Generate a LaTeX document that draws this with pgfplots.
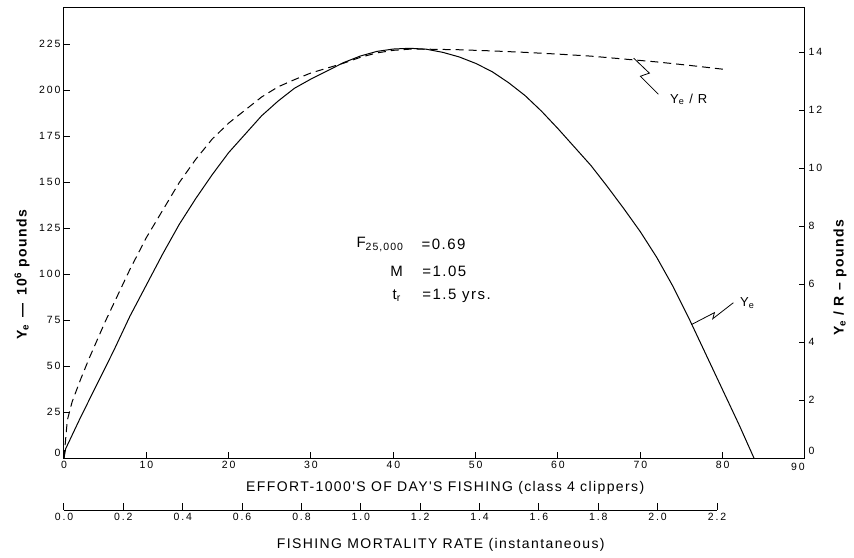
\documentclass[border=0pt]{standalone}
\usepackage{fontspec}
\setmainfont{Liberation Sans}
\newfontfamily\lab[LetterSpace=10]{Liberation Sans}
\newfontfamily\tck[LetterSpace=18]{Liberation Sans}
\usepackage{pgfplots}
\usepackage{pgfplotstable}
\pgfplotsset{compat=1.18}

% Ye in 10^6 pounds (left scale)
\pgfplotstableread{
E     Y
0     0
0.2   5
2     22
4     40
6     58
8     77
10    94
12    111
14    127
16    141
18    154
20    166
22    176
24    186
26    194
28    201
30    206
32    210.5
34    215
36    218.5
38    221
40    222.3
42    222.7
44    222.2
46    220.5
48    218
50    214.5
52    210
54    204
56    197
58    188.5
60    179
62    169
64    159
66    147.5
68    135.5
70    123
72    109
74    93
76    75
78    56
80    37
82    18
83.8  0
}\yieldtab

% Ye/R in pounds (right scale)
\pgfplotstableread{
E     R
0     0
0.4   1.3
1     1.95
2     2.7
3     3.4
4     4.05
5     4.7
6     5.3
7     5.9
8     6.5
9     7.05
10    7.6
12    8.55
14    9.5
16    10.3
18    11.0
20    11.55
22    12.0
24    12.45
26    12.8
28    13.05
30    13.28
32    13.45
34    13.62
36    13.82
38    13.97
40    14.06
42    14.1
44    14.1
48    14.08
52    14.04
56    13.99
60    13.93
64    13.86
68    13.76
72    13.66
76    13.54
80.3  13.4
}\pertab

\pgfplotsset{
  fishery/.style={
    at={(0pt,0pt)}, anchor=south west,
    scale only axis, width=741pt, height=450pt,
    xmin=0, xmax=90,
    tick align=inside, major tick length=6pt,
    axis line style={line width=1pt},
    tick style={line width=1pt, black},
    ticklabel style={font=\tck\fontsize{10.5}{12}\selectfont},
    /pgf/number format/assume math mode=true,
    label style={font=\lab\bfseries\fontsize{14}{16}\selectfont},
    clip=false,
  }
}

\begin{document}
\begin{tikzpicture}
\begin{axis}[
  fishery,
  ymin=0, ymax=244.6,
  xtick={0,10,...,80}, ytick={25,50,...,225},
  extra x ticks={90},
  extra x tick style={xticklabel style={xshift=-7pt, yshift=-2pt}},
  extra y ticks={0},
  extra y tick style={yticklabel style={yshift=5pt}},
  xtick pos=left, ytick pos=left,
  xlabel={\mdseries EFFORT-1000'S OF DAY'S FISHING (class 4 clippers)},
  xlabel style={at={(axis description cs:0.5145,-0.0667)}, anchor=center},
  ylabel={Y\textsubscript{e} \,\textemdash\, 10\textsuperscript{6} pounds},
  ylabel style={at={(axis description cs:-0.0567,0.407)}, anchor=center},
]
\addplot[black, line width=1pt] table[x=E, y=Y] {\yieldtab};

\draw[line width=0.8pt] (axis cs:69.2,217.3) -- (axis cs:71.1,209.2)
  -- (axis cs:70.0,207.5) -- (axis cs:72.2,197.7);
\node[anchor=west, font=\lab\fontsize{13}{15}\selectfont]
  at (axis cs:73.2,195) {Y\textsubscript{e} / R};
\draw[line width=0.8pt] (axis cs:76.2,72.5) -- (axis cs:79.0,79.0)
  -- (axis cs:78.8,75.7) -- (axis cs:81.3,84.4);
\node[anchor=west, font=\lab\fontsize{13}{15}\selectfont]
  at (axis cs:81.7,84.4) {Y\textsubscript{e}};

\node[anchor=west, font=\lab\fontsize{15}{17}\selectfont]
  at (axis cs:35.1,116) {F\textsubscript{25,000}};
\node[anchor=west, font=\lab\fontsize{15}{17}\selectfont]
  at (axis cs:43.0,116) {=0.69};
\node[anchor=west, font=\lab\fontsize{15}{17}\selectfont]
  at (axis cs:39.2,101.5) {M};
\node[anchor=west, font=\lab\fontsize{15}{17}\selectfont]
  at (axis cs:43.1,101.5) {=1.05};
\node[anchor=west, font=\lab\fontsize{15}{17}\selectfont]
  at (axis cs:39.5,88.2) {t\textsubscript{r}};
\node[anchor=west, font=\lab\fontsize{15}{17}\selectfont]
  at (axis cs:43.1,88.2) {=1.5 yrs.};
\end{axis}

\begin{axis}[
  fishery,
  ymin=0, ymax=15.52,
  axis x line=none, axis y line*=right,
  ytick={2,4,...,14},
  extra y ticks={0},
  extra y tick style={yticklabel style={yshift=7pt}},
  ylabel={Y\textsubscript{e} / R \textendash\ pounds},
  ylabel style={at={(axis description cs:1.0472,0.40)}, anchor=center},
]
\addplot[black, line width=1pt, dash pattern=on 8pt off 5pt]
  table[x=E, y=R] {\pertab};
\end{axis}

\begin{axis}[
  at={(0pt,-52pt)}, anchor=south west,
  scale only axis, width=653pt, height=10pt,
  xmin=0, xmax=2.2, ymin=0, ymax=1,
  axis x line*=bottom, axis y line=none,
  xtick={0,0.2,0.4,0.6,0.8,1.0,1.2,1.4,1.6,1.8,2.0,2.2},
  xticklabel style={/pgf/number format/.cd, fixed, fixed zerofill, precision=1},
  tick align=inside, major tick length=7pt,
  axis line style={line width=1pt},
  tick style={line width=1pt, black},
  ticklabel style={font=\tck\fontsize{10.5}{12}\selectfont},
  /pgf/number format/assume math mode=true,
  xlabel={FISHING MORTALITY RATE (instantaneous)},
  label style={font=\lab\fontsize{14}{16}\selectfont},
  xlabel style={at={(axis description cs:0.577,0)}, anchor=center, yshift=-35pt},
]
\end{axis}

\pgfresetboundingbox
\path[use as bounding box] (-64pt,-99pt) rectangle (790pt,458pt);
\end{tikzpicture}
\end{document}
